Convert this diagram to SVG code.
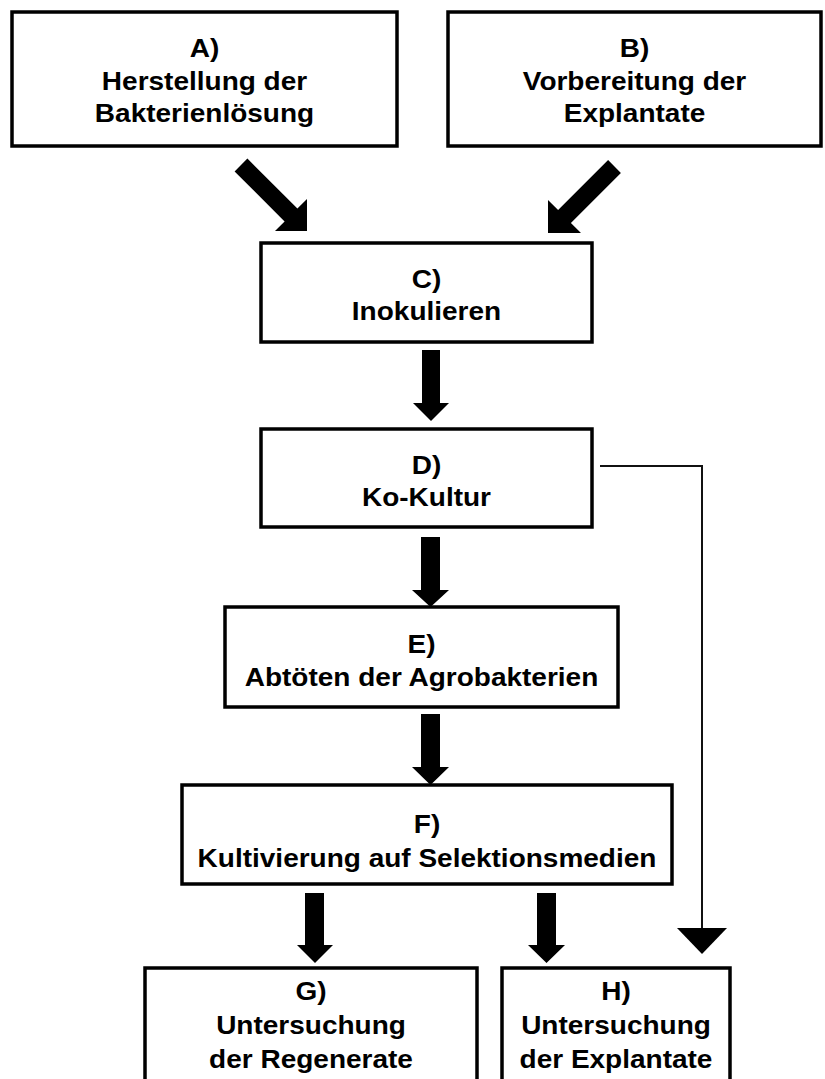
<svg xmlns="http://www.w3.org/2000/svg" width="825" height="1079" viewBox="0 0 825 1079">
<style>
.box{fill:#fff;stroke:#000;stroke-width:3.5}
.lbl{font-family:"Liberation Sans",Arial,sans-serif;font-weight:bold;font-size:25px;fill:#000;text-anchor:middle}
.blk{fill:#000}
.thin{fill:none;stroke:#111;stroke-width:2}
</style>
<rect width="825" height="1079" fill="#fff"/>
<g id="connectors">
<polygon class="blk" points="247.4,158.6 297.4,208.6 307,199 307,231 275,231 284.6,221.4 234.6,171.4"/>
<polygon class="blk" points="608.1,160.1 620.9,172.9 570.9,222.9 581,233 548,233 548,200 558.1,210.1"/>
<polygon class="blk" points="422,350 440,350 440,403 449,403 431,421 413,403 422,403"/>
<polygon class="blk" points="421,537 440,537 440,590 449,590 430.5,607 412,590 421,590"/>
<polygon class="blk" points="421,714 440,714 440,767 449,767 430.5,785 412,767 421,767"/>
<polygon class="blk" points="305,893 324,893 324,945 333,945 315,963 297,945 305,945"/>
<polygon class="blk" points="537,893 556,893 556,945 565,945 546.5,963 528,945 537,945"/>
<polyline class="thin" points="600,466 702,466 702,929"/>
<polygon class="blk" points="677,928 727,928 702,954"/>
</g>
<g id="nodeA">
<rect class="box" x="12" y="12" width="385" height="134"/>
<g transform="translate(204.5 0) scale(1.12 1)"><text class="lbl" x="0" y="57">A)</text><text class="lbl" x="0" y="90">Herstellung der</text><text class="lbl" x="0" y="122">Bakterienlösung</text></g>
</g>
<g id="nodeB">
<rect class="box" x="448" y="12" width="373" height="134"/>
<g transform="translate(634.5 0) scale(1.12 1)"><text class="lbl" x="0" y="57">B)</text><text class="lbl" x="0" y="90">Vorbereitung der</text><text class="lbl" x="0" y="122">Explantate</text></g>
</g>
<g id="nodeC">
<rect class="box" x="261" y="243" width="331" height="99"/>
<g transform="translate(426.5 0) scale(1.12 1)"><text class="lbl" x="0" y="288">C)</text><text class="lbl" x="0" y="320">Inokulieren</text></g>
</g>
<g id="nodeD">
<rect class="box" x="261" y="429" width="331" height="98"/>
<g transform="translate(426.5 0) scale(1.12 1)"><text class="lbl" x="0" y="474">D)</text><text class="lbl" x="0" y="506">Ko-Kultur</text></g>
</g>
<g id="nodeE">
<rect class="box" x="225" y="607" width="393" height="100"/>
<g transform="translate(421.5 0) scale(1.12 1)"><text class="lbl" x="0" y="653">E)</text><text class="lbl" x="0" y="686">Abtöten der Agrobakterien</text></g>
</g>
<g id="nodeF">
<rect class="box" x="182" y="785" width="490" height="99"/>
<g transform="translate(427 0) scale(1.12 1)"><text class="lbl" x="0" y="833">F)</text><text class="lbl" x="0" y="867">Kultivierung auf Selektionsmedien</text></g>
</g>
<g id="nodeG">
<rect class="box" x="145" y="968" width="332" height="130"/>
<g transform="translate(311 0) scale(1.12 1)"><text class="lbl" x="0" y="1000">G)</text><text class="lbl" x="0" y="1034">Untersuchung</text><text class="lbl" x="0" y="1068">der Regenerate</text></g>
</g>
<g id="nodeH">
<rect class="box" x="502" y="968" width="228" height="130"/>
<g transform="translate(616 0) scale(1.12 1)"><text class="lbl" x="0" y="1000">H)</text><text class="lbl" x="0" y="1034">Untersuchung</text><text class="lbl" x="0" y="1068">der Explantate</text></g>
</g>
</svg>
